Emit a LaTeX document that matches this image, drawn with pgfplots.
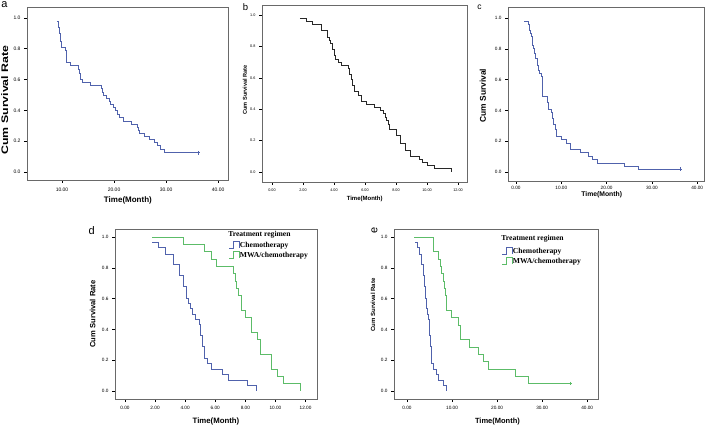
\documentclass[border=0pt]{standalone}
\usepackage{pgfplots}
\pgfplotsset{compat=1.18}
\usepackage{fontspec}
\setmainfont{Liberation Sans}
\newfontfamily\serifb{Liberation Serif}

\definecolor{kmblue}{RGB}{80,98,172}
\definecolor{kmgreen}{RGB}{92,188,104}
\definecolor{boxgray}{RGB}{105,105,105}
\definecolor{kmblack}{RGB}{40,40,40}

\newcommand{\fs}[1]{\fontsize{#1bp}{#1bp}\selectfont}

\pgfplotsset{
  km/.style={
    scale only axis, anchor=south west,
    axis line style={boxgray, line width=0.9bp},
    tick align=outside, xtick pos=left, ytick pos=left,
    major tick length=3bp,
    every tick/.style={black, line width=0.5bp},
    /pgf/number format/assume math mode=true,
    ytick={0,0.2,0.4,0.6,0.8,1.0},
    yticklabel style={/pgf/number format/.cd, fixed, fixed zerofill, precision=1, /tikz/.cd},
    xticklabel style={/pgf/number format/.cd, fixed, fixed zerofill, precision=2, /tikz/.cd},
    ylabel style={anchor=center},
    xlabel style={anchor=center},
    const plot,
    clip=false,
  },
  kmleg/.style={
    legend cell align=left,
    legend style={draw=none, fill=none, inner sep=0pt,
      font=\serifb\bfseries\fs{7.6},
      nodes={inner sep=0.6bp, text height=5.2bp, text depth=1.6bp},
      row sep=1.6bp,
      /tikz/every even column/.append style={column sep=2.5bp}},
    legend image code/.code={\draw[##1] (0bp,-2.6bp) -- (4bp,-2.6bp) -- (4bp,4.2bp) -- (10bp,4.2bp) -- (10bp,-2.6bp);},
  },
}

\begin{document}
\begin{tikzpicture}
\useasboundingbox (0,0) rectangle (709bp,427bp);

% ---------------- a
\begin{axis}[km, at={(27bp,247bp)}, width=201bp, height=173bp,
  xmin=3.27, xmax=41.9, ymin=-0.052, ymax=1.071,
  xtick={10,20,30,40},
  tick label style={font=\fs{5}},
  xticklabel style={yshift=-1bp},
  xlabel={\textbf{Time(Month)}}, ylabel={\textbf{Cum Survival Rate}},
  xlabel style={font=\fs{8}, at={(axis description cs:0.502,-0.121)}},
  ylabel style={font=\fs{9.5}, xscale=1.3, at={(axis description cs:-0.111,0.462)}},
]
\addplot[kmblue, line width=0.6bp] coordinates {
(9.0,0.98) (9.2,0.96) (9.3,0.94) (9.4,0.92) (9.5,0.90) (9.6,0.875) (9.7,0.85) (9.8,0.81)
(10.7,0.79) (10.8,0.75) (10.9,0.71) (11.6,0.69) (13.1,0.665) (13.4,0.64) (13.6,0.60) (13.9,0.58)
(15.5,0.56) (17.5,0.54) (17.7,0.52) (18.0,0.50) (18.5,0.48) (19.0,0.46) (19.3,0.44) (19.8,0.42)
(20.3,0.40) (20.6,0.375) (21.0,0.355) (21.8,0.33) (23.4,0.31) (24.5,0.29) (24.6,0.27) (24.9,0.25)
(25.9,0.23) (26.8,0.21) (27.7,0.19) (28.3,0.17) (28.8,0.15) (29.6,0.125) (36.2,0.125)};
\addplot[kmblue, only marks, mark=+, mark size=1.8bp, line width=0.5bp] coordinates {(36.2,0.125)};
\end{axis}

% ---------------- b
\begin{axis}[km, at={(262bp,245bp)}, width=205bp, height=177bp,
  xmin=-0.645, xmax=12.58, ymin=-0.064, ymax=1.064,
  xtick={0,2,4,6,8,10,12},
  tick label style={font=\fs{3.8}},
  xlabel={\textbf{Time(Month)}}, ylabel={\textbf{Cum Survival Rate}},
  xlabel style={font=\fs{6}, at={(axis description cs:0.501,-0.096)}},
  ylabel style={font=\fs{5.6}, at={(axis description cs:-0.083,0.52)}},
]
\addplot[kmblack, line width=0.9bp] coordinates {
(1.8,0.98) (2.2,0.96) (2.6,0.94) (3.2,0.90) (3.6,0.86) (3.7,0.84) (3.8,0.82) (3.9,0.78)
(4.0,0.76) (4.05,0.74) (4.1,0.72) (4.3,0.70) (4.5,0.68) (4.9,0.66) (5.0,0.62) (5.1,0.59)
(5.2,0.55) (5.3,0.51) (5.6,0.49) (5.8,0.45) (6.1,0.43) (6.6,0.41) (7.0,0.39) (7.2,0.37)
(7.3,0.35) (7.4,0.33) (7.5,0.30) (7.6,0.27) (8.0,0.23) (8.3,0.18) (8.6,0.14) (8.9,0.10)
(9.5,0.08) (9.7,0.06) (10.0,0.04) (10.5,0.02) (11.55,0.00)};
\end{axis}

% ---------------- c
\begin{axis}[km, at={(508bp,246bp)}, width=196bp, height=174bp,
  xmin=-1.77, xmax=41.5, ymin=-0.058, ymax=1.071,
  xtick={0,10,20,30,40},
  tick label style={font=\fs{4.7}},
  xticklabel style={yshift=1.5bp},
  xlabel={\textbf{Time(Month)}}, ylabel={\textbf{Cum Survival}},
  xlabel style={font=\fs{6.8}, at={(axis description cs:0.478,-0.08)}},
  ylabel style={font=\fs{8.4}, at={(axis description cs:-0.128,0.49)}},
]
\addplot[kmblue, line width=0.6bp] coordinates {
(1.8,0.98) (2.7,0.96) (2.9,0.94) (3.0,0.92) (3.1,0.90) (3.3,0.88) (3.5,0.86) (3.7,0.82)
(3.9,0.80) (4.0,0.77) (4.3,0.74) (4.6,0.71) (4.8,0.69) (4.9,0.66) (5.2,0.64) (5.6,0.62)
(5.9,0.49) (6.9,0.45) (7.1,0.41) (7.7,0.39) (8.0,0.35) (8.3,0.31) (8.6,0.28) (8.9,0.23)
(9.9,0.21) (11.1,0.185) (12.0,0.145) (14.1,0.125) (15.9,0.105) (16.8,0.085) (17.9,0.06)
(24.0,0.04) (27.0,0.02) (36.2,0.02)};
\addplot[kmblue, only marks, mark=+, mark size=1.8bp, line width=0.5bp] coordinates {(36.2,0.02)};
\end{axis}

% ---------------- d
\begin{axis}[km, kmleg, at={(115bp,28bp)}, width=202bp, height=170bp,
  xmin=-0.66, xmax=12.76, ymin=-0.052, ymax=1.052,
  xtick={0,2,4,6,8,10,12},
  tick label style={font=\fs{4.7}},
  xticklabel style={yshift=-1bp},
  xlabel={\textbf{Time(Month)}}, ylabel={\textbf{Cum Survival Rate}},
  xlabel style={font=\fs{7.8}, at={(axis description cs:0.5,-0.133)}},
  ylabel style={font=\fs{7.6}, at={(axis description cs:-0.11,0.5)}},
  legend style={at={(axis description cs:0.562,0.93)}, anchor=north west},
]
\addplot[kmblue, line width=0.6bp] coordinates {
(1.8,0.963) (2.2,0.93) (2.65,0.89) (3.2,0.82) (3.6,0.75) (3.85,0.68) (4.05,0.64) (4.1,0.60)
(4.2,0.57) (4.35,0.535) (4.5,0.50) (4.65,0.465) (4.95,0.43) (5.0,0.36) (5.15,0.29) (5.3,0.21)
(5.5,0.18) (5.75,0.14) (6.5,0.11) (6.9,0.07) (8.1,0.035) (8.75,0.0)};
\addlegendentry{Chemotherapy}
\addplot[kmgreen, line width=0.6bp] coordinates {
(1.8,1.0) (3.9,0.952) (5.25,0.905) (5.75,0.857) (6.05,0.81) (7.2,0.762) (7.3,0.714) (7.4,0.667)
(7.55,0.619) (7.7,0.524) (8.0,0.476) (8.4,0.381) (8.8,0.333) (9.0,0.238) (9.7,0.143)
(10.1,0.095) (10.5,0.048) (11.65,0.0)};
\addlegendentry{MWA/chemotherapy}
\node[font=\serifb\bfseries\fs{7.6}] at (axis description cs:0.715,0.965) {Treatment regimen};
\end{axis}

% ---------------- e
\begin{axis}[km, kmleg, at={(394bp,28bp)}, width=204bp, height=170bp,
  xmin=-2.89, xmax=42.4, ymin=-0.052, ymax=1.052,
  xtick={0,10,20,30,40},
  tick label style={font=\fs{4.7}},
  xticklabel style={yshift=-1bp},
  xlabel={\textbf{Time(Month)}}, ylabel={\textbf{Cum Survival Rate}},
  xlabel style={font=\fs{7.5}, at={(axis description cs:0.507,-0.133)}},
  ylabel style={font=\fs{6}, at={(axis description cs:-0.103,0.553)}},
  legend style={at={(axis description cs:0.527,0.895)}, anchor=north west},
]
\addplot[kmblue, line width=0.6bp] coordinates {
(1.8,0.963) (2.2,0.93) (2.65,0.89) (3.2,0.82) (3.6,0.75) (3.85,0.68) (4.05,0.64) (4.1,0.60)
(4.2,0.57) (4.35,0.535) (4.5,0.50) (4.65,0.465) (4.95,0.43) (5.0,0.36) (5.15,0.29) (5.3,0.21)
(5.5,0.18) (5.75,0.14) (6.5,0.11) (6.9,0.07) (8.1,0.035) (8.75,0.0)};
\addlegendentry{Chemotherapy}
\addplot[kmgreen, line width=0.6bp] coordinates {
(1.6,1.0) (5.85,0.905) (7.0,0.857) (7.3,0.81) (7.7,0.762) (8.0,0.714) (8.2,0.667) (8.5,0.619)
(8.8,0.524) (9.8,0.476) (11.4,0.429) (11.8,0.333) (13.9,0.286) (15.9,0.238) (17.0,0.19)
(18.0,0.143) (24.0,0.095) (27.0,0.048) (36.2,0.048)};
\addlegendentry{MWA/chemotherapy}
\addplot[kmgreen, only marks, mark=+, mark size=1.8bp, line width=0.5bp, forget plot] coordinates {(36.2,0.048)};
\node[font=\serifb\bfseries\fs{7.6}] at (axis description cs:0.679,0.941) {Treatment regimen};
\end{axis}

% panel letters
\node[font=\fs{11}] at (4.5bp,422bp) {a};
\node[font=\fs{9.5}] at (245.5bp,420.3bp) {b};
\node[font=\fs{8.5}] at (479.5bp,419.8bp) {c};
\node[font=\fs{11}] at (91.7bp,196.2bp) {d};
\node[font=\fs{11}, rotate=90] at (374.5bp,197bp) {e};
\end{tikzpicture}
\end{document}
